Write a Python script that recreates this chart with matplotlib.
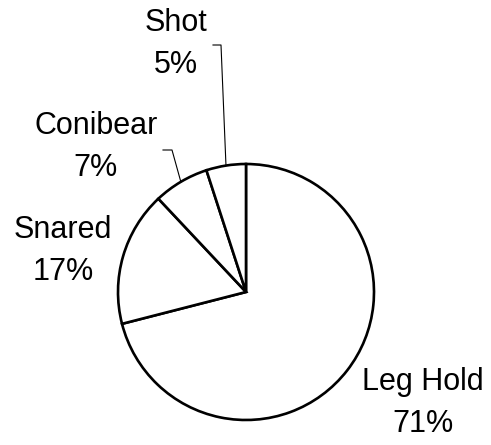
import numpy as np
import matplotlib.pyplot as plt

plt.rcParams['font.family'] = ['Liberation Sans', 'DejaVu Sans']

# trap type shares (%)
labels = ['Leg Hold', 'Snared', 'Conibear', 'Shot']
shares = [71, 17, 7, 5]

# label centres in pixel coords (x, y from top)
label_pos = [(423, 403), (63, 251), (96, 147), (176, 44)]

W, H = 491, 445
fig = plt.figure(figsize=(W / 100, H / 100), dpi=100)
ax = fig.add_axes([0, 0, 1, 1])

cx, cy, r = 246, H - 292, 128
wedges, _ = ax.pie(shares, startangle=90, counterclock=False,
                   center=(cx, cy), radius=r, frame=True,
                   colors=['white'] * len(shares),
                   wedgeprops=dict(edgecolor='black', linewidth=1.9))
ax.set_xlim(0, W)
ax.set_ylim(0, H)
ax.set_aspect('equal')
ax.axis('off')

for lab, val, (px, py) in zip(labels, shares, label_pos):
    ax.text(px, H - py, f'{lab}\n{val}%', ha='center', va='center',
            fontsize=22, linespacing=1.55)

# leader lines for the two thin slices
leaders = {'Conibear': (163, 172, 150), 'Shot': (213, 221, 45)}
for w, lab in zip(wedges, labels):
    if lab not in leaders:
        continue
    x0, x1, y0 = leaders[lab]
    mid = np.deg2rad((w.theta1 + w.theta2) / 2)
    ex, ey = cx + r * np.cos(mid), cy + r * np.sin(mid)
    ax.plot([x0, x1, ex], [H - y0, H - y0, ey], color='black', lw=0.8)

fig.savefig('out.png', dpi=100)
